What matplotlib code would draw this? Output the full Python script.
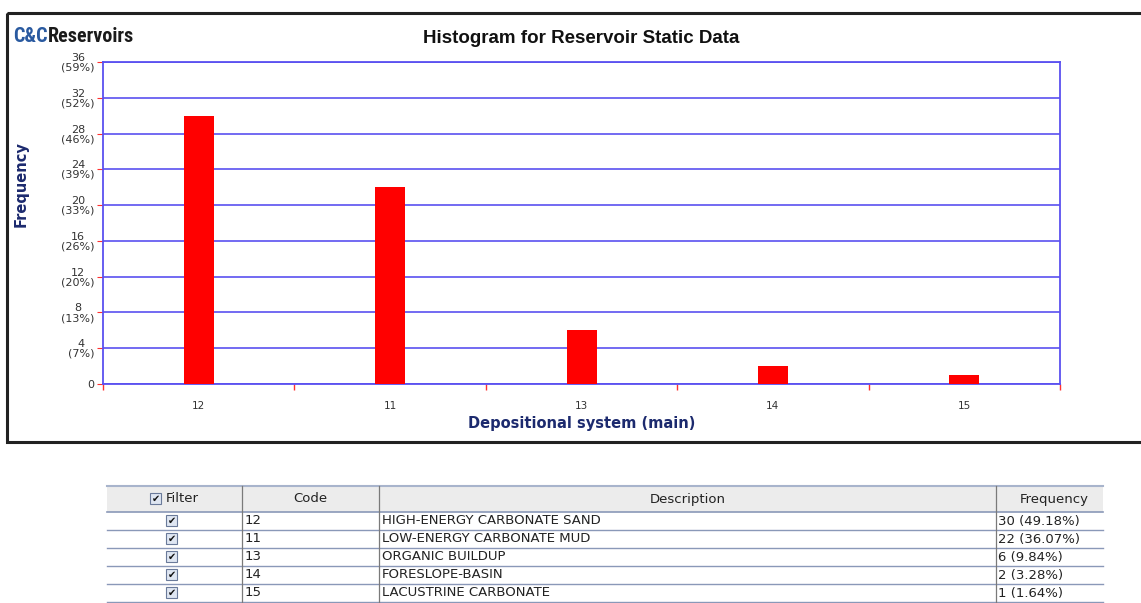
import matplotlib
matplotlib.use("Agg")
from matplotlib import pyplot as plt
from matplotlib import font_manager
from matplotlib.patches import Rectangle
import numpy as np

# data
codes = ["12", "11", "13", "14", "15"]
freq = [30, 22, 6, 2, 1]
descriptions = ["HIGH-ENERGY CARBONATE SAND", "LOW-ENERGY CARBONATE MUD",
                "ORGANIC BUILDUP", "FORESLOPE-BASIN", "LACUSTRINE CARBONATE"]
freq_text = ["30 (49.18%)", "22 (36.07%)", "6 (9.84%)", "2 (3.28%)", "1 (1.64%)"]
ytick_vals = [0, 4, 8, 12, 16, 20, 24, 28, 32, 36]
ytick_labels = ["0", "4\n(7%)", "8\n(13%)", "12\n(20%)", "16\n(26%)", "20\n(33%)",
                "24\n(39%)", "28\n(46%)", "32\n(52%)", "36\n(59%)"]

W, H = 1141, 603
fig = plt.figure(figsize=(W / 100, H / 100), dpi=100)

navy = "#1c2a6e"
grid_blue = "#5a50f0"
arial = "Liberation Sans"

# narrow font for the logo if there is one
names = {f.name for f in font_manager.fontManager.ttflist}
logo_font = "Liberation Sans"
for cand in ["Liberation Sans Narrow", "DejaVu Sans Condensed", "Roboto Condensed"]:
    if cand in names:
        logo_font = cand
        break

# overlay axes in pixel coords for frame, logo and table
ov = fig.add_axes([0, 0, 1, 1])
ov.set_xlim(0, W)
ov.set_ylim(H, 0)
ov.axis("off")

# chart panel border
ov.add_patch(Rectangle((7, 13), W - 7 + 5, 429, fill=False, lw=2.2, ec="#222222"))

# logo, sized to span about 121 px
r = fig.canvas.get_renderer()
t1 = ov.text(13, 37, "C&C", color="#2a5aa0", fontsize=15, fontweight="bold",
             family=logo_font, va="center", ha="left")
t2 = ov.text(47, 37, "Reservoirs", color="#1a1a1a", fontsize=15, fontweight="bold",
             family=logo_font, va="center", ha="left")
w1 = t1.get_window_extent(r).width
w2 = t2.get_window_extent(r).width
fs = min(17, 15 * 121 / (w1 + w2))
t1.set_fontsize(fs)
t2.set_fontsize(fs)
w1 = t1.get_window_extent(r).width
t2.set_x(13 + w1)

# chart axes
ax = fig.add_axes([103 / W, 1 - 384 / H, (1060 - 103) / W, (384 - 62) / H])
x = np.arange(len(codes))
ax.bar(x, freq, width=30 / 191.4, color="#ff0000", zorder=3)
ax.set_xlim(-0.5, len(codes) - 0.5)
ax.set_ylim(0, 36)
ax.set_yticks(ytick_vals)
ax.set_yticklabels(ytick_labels, fontsize=8, color="#333333",
                   linespacing=0.95, multialignment="center")
ax.set_xticks(x)
ax.set_xticklabels(codes, fontsize=7.5, color="#333333")
ax.tick_params(axis="x", length=0, pad=12)
ax.tick_params(axis="y", length=4, color="#ff3030", pad=2)
ax.set_xticks(np.arange(-0.5, len(codes)), minor=True)
ax.tick_params(axis="x", which="minor", length=4, color="#ff3030", width=1)
ax.grid(axis="y", color=grid_blue, lw=1.2, zorder=1)
for s in ax.spines.values():
    s.set_color(grid_blue)
    s.set_linewidth(1.3)
ax.set_title("Histogram for Reservoir Static Data", fontsize=13.5, fontweight="bold",
             color="#111111", pad=14, family=arial)
ax.set_xlabel("Depositional system (main)", fontsize=10.5, fontweight="bold", color=navy, labelpad=4)
ax.set_ylabel("Frequency", fontsize=10.5, fontweight="bold", color=navy)
ax.yaxis.set_label_coords(-0.078, 0.62)

# table
col_x = [107, 242, 379, 996, 1103]
header_top, header_bot = 486, 512
row_h = 18
line_c = "#8a98b8"
ov.add_patch(Rectangle((col_x[0], header_top), col_x[-1] - col_x[0], header_bot - header_top,
                       fc="#ececec", ec="none"))
ov.plot([col_x[0], col_x[-1]], [header_top, header_top], color="#a8b4cc", lw=1.5)
ov.plot([col_x[0], col_x[-1]], [header_bot, header_bot], color=line_c, lw=1.2)
n = len(codes)
for i in range(n):
    yb = header_bot + (i + 1) * row_h
    ov.plot([col_x[0], col_x[-1]], [yb, yb], color=line_c, lw=1.0)
for cx in col_x[1:-1]:
    ov.plot([cx, cx], [header_top, header_bot + n * row_h + 2], color="#7a7a7a", lw=0.9)

tfont = dict(fontsize=9.5, color="#222222", va="center", family="DejaVu Sans")
hy = (header_top + header_bot) / 2
ov.add_patch(Rectangle((150, hy - 6), 11, 11, fc="#dfe6f2", ec="#6a7a9a", lw=0.8))
ov.text(155.5, hy, "\u2714", fontsize=7, ha="center", va="center", color="#111111")
ov.text(166, hy, "Filter", ha="left", **tfont)
ov.text((col_x[1] + col_x[2]) / 2, hy, "Code", ha="center", **tfont)
ov.text((col_x[2] + col_x[3]) / 2, hy, "Description", ha="center", **tfont)
ov.text(1089, hy, "Frequency", ha="right", **tfont)

for i in range(n):
    cy = header_bot + i * row_h + row_h / 2
    ov.add_patch(Rectangle((166, cy - 6), 11, 11, fc="#dfe6f2", ec="#6a7a9a", lw=0.8))
    ov.text(171.5, cy, "\u2714", fontsize=7, ha="center", va="center", color="#111111")
    ov.text(col_x[1] + 3, cy, codes[i], ha="left", **tfont)
    ov.text(col_x[2] + 3, cy, descriptions[i], ha="left", **tfont)
    ov.text(col_x[3] + 2, cy, freq_text[i], ha="left", **tfont)

fig.savefig("out.png", dpi=100)
